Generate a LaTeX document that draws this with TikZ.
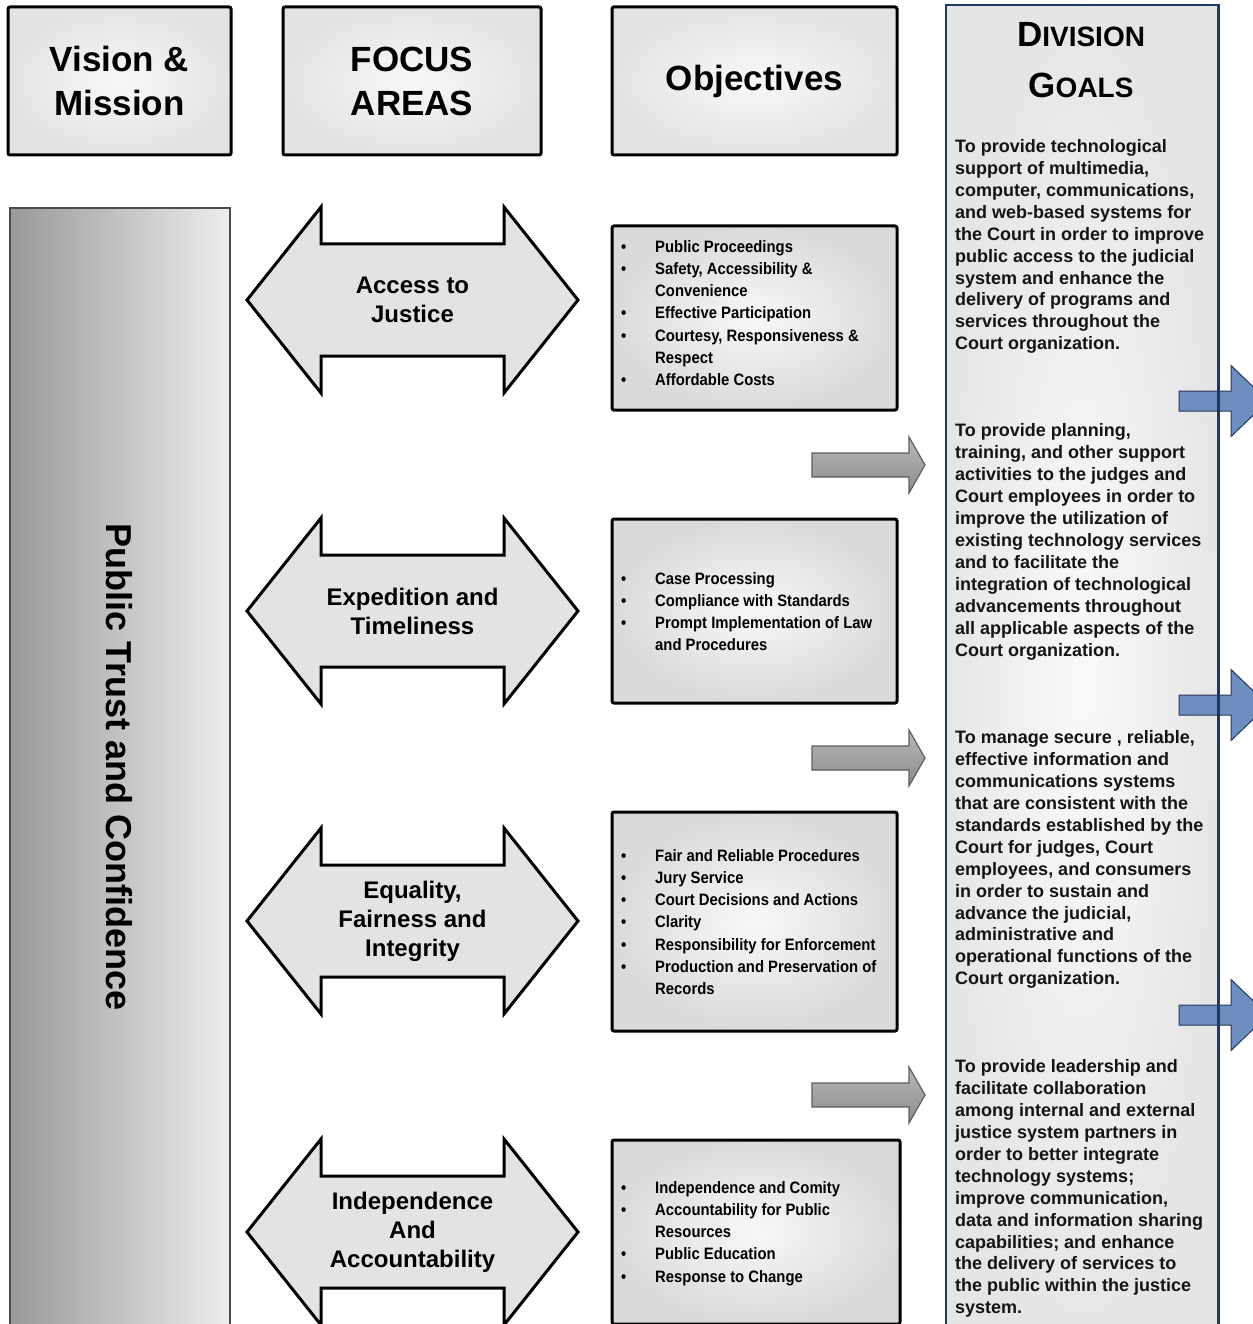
\documentclass[tikz,border=0pt]{standalone}
\usepackage{fontspec}
\setmainfont{Liberation Sans}
\newfontfamily\narrowfont[FakeStretch=0.9]{Liberation Sans}
\definecolor{boxin}{HTML}{F8F8F8}
\definecolor{boxout}{HTML}{E3E3E3}
\definecolor{objout}{HTML}{DADADA}
\definecolor{navy}{HTML}{1F3A60}
\definecolor{bluefill}{HTML}{6D8EBF}
\definecolor{blueline}{HTML}{23395D}
\definecolor{greyline}{HTML}{5E5E5E}
\newcommand\itm{\makebox[34pt][l]{\textbullet}}
\newcommand\cont{\hspace*{34pt}}
\begin{document}
\begin{tikzpicture}[x=1pt,y=-1pt,
  hdr/.style={draw=black, line width=3pt, rounded corners=2pt,
    inner color=boxin, outer color=boxout, align=center,
    font=\fontsize{35}{44}\selectfont\bfseries},
  objbox/.style={draw=black, line width=3pt, rounded corners=2pt,
    inner color=boxin, outer color=objout},
  otext/.style={anchor=west, inner sep=0pt, align=left,
    font=\narrowfont\fontsize{16.5}{22.2}\selectfont\bfseries},
  gtext/.style={anchor=west, inner sep=0pt, align=left, text=black!92,
    font=\fontsize{18}{21.95}\selectfont\bfseries},
  farrow/.style={draw=black, line width=3pt, line join=miter,
    left color=boxout, middle color=boxin, right color=boxout},
  ftext/.style={align=center, inner sep=0pt,
    font=\fontsize{24}{29}\selectfont\bfseries},
  garrow/.style={draw=greyline, line width=1.2pt,
    top color=black!28, bottom color=black!45},
  barrow/.style={draw=blueline, line width=1pt, fill=bluefill},
]
\useasboundingbox (0,0) rectangle (1252,1324);
\fill[white] (0,0) rectangle (1252,1324);

% column headers
\node[hdr, minimum width=223pt, minimum height=148pt] (vm) at (119.5,81) {Vision \&\\Mission};
\node[hdr, minimum width=258pt, minimum height=148pt] (fa) at (412,81) {FOCUS\\AREAS};
\node[hdr, minimum width=285pt, minimum height=148pt] (ob) at (754.5,81) {Objectives};

% vision bar on the left
\path[draw=black!70, line width=1.5pt, left color=black!40, right color=black!7]
  (10,208) rectangle (230,1340);
\node[rotate=-90, font=\fontsize{36}{40}\selectfont\bfseries] (pt) at (119,767) {Public Trust and Confidence};

% focus area double arrows
\newcommand\focusarrow[3]{%
  \draw[farrow, shift={(0,#1)}] (247,0) -- (321,-93) -- (321,-56) -- (504,-56)
    -- (504,-93) -- (578,0) -- (504,93) -- (504,56) -- (321,56) -- (321,93) -- cycle;
  \node[ftext] (#2) at (412.5,#1) {#3};}
\focusarrow{300}{f1}{Access to\\Justice}
\focusarrow{611}{f2}{Expedition and\\Timeliness}
\focusarrow{921}{f3}{Equality,\\Fairness and\\Integrity}
\focusarrow{1232}{f4}{Independence\\And\\Accountability}

% objective boxes
\node[objbox, minimum width=285pt, minimum height=184pt] (o1) at (754.5,318) {};
\node[objbox, minimum width=285pt, minimum height=184pt] (o2) at (754.5,611) {};
\node[objbox, minimum width=285pt, minimum height=219pt] (o3) at (754.5,921.5) {};
\node[objbox, minimum width=288pt, minimum height=184pt] (o4) at (756,1232) {};

\node[otext] (t1) at (621,313) {\itm Public Proceedings\\
  \itm Safety, Accessibility \&\\ \cont Convenience\\
  \itm Effective Participation\\
  \itm Courtesy, Responsiveness \&\\ \cont Respect\\
  \itm Affordable Costs};
\node[otext] (t2) at (621,611.5) {\itm Case Processing\\
  \itm Compliance with Standards\\
  \itm Prompt Implementation of Law\\ \cont and Procedures};
\node[otext] (t3) at (621,922) {\itm Fair and Reliable Procedures\\
  \itm Jury Service\\
  \itm Court Decisions and Actions\\
  \itm Clarity\\
  \itm Responsibility for Enforcement\\
  \itm Production and Preservation of\\ \cont Records};
\node[otext] (t4) at (621,1233.5) {\itm Independence and Comity\\
  \itm Accountability for Public\\ \cont Resources\\
  \itm Public Education\\
  \itm Response to Change};

% grey arrows between objectives
\newcommand\greyarrow[1]{%
  \draw[garrow, shift={(0,#1)}] (812,-12) -- (909,-12) -- (909,-28) -- (925,0)
    -- (909,28) -- (909,12) -- (812,12) -- cycle;}
\greyarrow{465}
\greyarrow{758}
\greyarrow{1095}

% division goals column
\node[minimum width=272pt, minimum height=1340pt, anchor=north west,
  inner color=black!2, outer color=black!10] (dg) at (946,5) {};
\newcommand\bluearrow[1]{%
  \draw[barrow, shift={(0,#1)}] (1179,-10) -- (1231,-10) -- (1231,-35.5) -- (1268,0)
    -- (1231,35.5) -- (1231,10) -- (1179,10) -- cycle;}
\bluearrow{401}
\bluearrow{705}
\bluearrow{1015}
\draw[navy, line width=2.5pt] (dg.south west) -- (dg.north west) -- (dg.north east) -- (dg.south east);

\node[font=\bfseries, inner sep=0pt] (dv) at (1081,35) {\fontsize{35}{40}\selectfont D\fontsize{28}{32}\selectfont IVISION};
\node[font=\bfseries, inner sep=0pt] (gl) at (1081,85) {\fontsize{35}{40}\selectfont G\fontsize{28}{32}\selectfont OALS};

\node[gtext] (g1) at (955,246.5) {To provide technological\\support of multimedia,\\computer, communications,\\and web-based systems for\\the Court in order to improve\\public access to the judicial\\system and enhance the\\delivery of programs and\\services throughout the\\Court organization.};
\node[gtext] (g2) at (955,542) {To provide planning,\\training, and other support\\activities to the judges and\\Court employees in order to\\improve the utilization of\\existing technology services\\and to facilitate the\\integration of technological\\advancements throughout\\all applicable aspects of the\\Court organization.};
\node[gtext] (g3) at (955,859.5) {To manage secure , reliable,\\effective information and\\communications systems\\that are consistent with the\\standards established by the\\Court for judges, Court\\employees, and consumers\\in order to sustain and\\advance the judicial,\\administrative and\\operational functions of the\\Court organization.};
\node[gtext] (g4) at (955,1188.5) {To provide leadership and\\facilitate collaboration\\among internal and external\\justice system partners in\\order to better integrate\\technology systems;\\improve communication,\\data and information sharing\\capabilities; and enhance\\the delivery of services to\\the public within the justice\\system.};
\end{tikzpicture}
\end{document}
